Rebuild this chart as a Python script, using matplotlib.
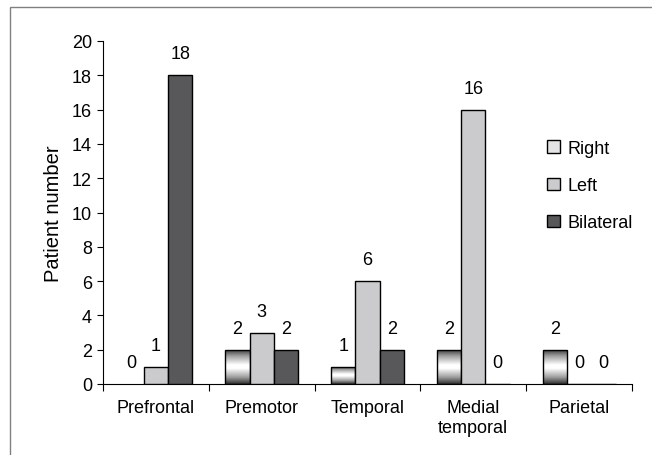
import matplotlib
matplotlib.use("Agg")
import matplotlib.pyplot as plt
import numpy as np
from matplotlib.patches import Rectangle, Patch
from matplotlib.colors import LinearSegmentedColormap

plt.rcParams['font.family'] = ['Liberation Sans', 'DejaVu Sans']

categories = ["Prefrontal", "Premotor", "Temporal", "Medial\ntemporal", "Parietal"]
right = [0, 2, 1, 2, 2]
left = [1, 3, 6, 16, 0]
bilateral = [18, 2, 2, 0, 0]
yticks = [0, 2, 4, 6, 8, 10, 12, 14, 16, 18, 20]

fig = plt.figure(figsize=(6.52, 4.56), dpi=100)
# outer border (top and left visible)
fig.patches.append(Rectangle((10/652, -1), 2, 2 - 8/456, transform=fig.transFigure,
                             fill=False, edgecolor='#808080', linewidth=1))

ax = fig.add_axes([103/652, 1 - 385/456, (632-103)/652, (385-42)/456])

w = 0.23
x = np.arange(5) + 0.5
grad_cmap = LinearSegmentedColormap.from_list(
    "g", [(0, "#303030"), (0.2, "#a0a0a0"), (0.45, "#ffffff"), (0.55, "#ffffff"), (0.8, "#a0a0a0"), (1, "#303030")])
grad = np.linspace(0, 1, 256).reshape(-1, 1)

for xi, v in zip(x, right):
    if v > 0:
        r = Rectangle((xi - w*1.5, 0), w, v, facecolor='none', edgecolor='black', linewidth=1, zorder=3)
        ax.add_patch(r)
        im = ax.imshow(grad, cmap=grad_cmap, aspect='auto', extent=[xi - w*1.5, xi - w*0.5, 0, v],
                       zorder=2, interpolation='bilinear')
        im.set_clip_path(r)
ax.bar(x, left, w, color='#cbcbcd', edgecolor='black', linewidth=1, zorder=3)
ax.bar(x + w, bilateral, w, color='#58585a', edgecolor='black', linewidth=1, zorder=3)
ax.set_xlim(0, 5)
ax.set_ylim(0, 20)

fs = 13
off = 0.75
for xi, v in zip(x, right):
    ax.text(xi - w, v + off, str(v), ha='center', va='bottom', fontsize=fs)
for xi, v in zip(x, left):
    ax.text(xi, v + off, str(v), ha='center', va='bottom', fontsize=fs)
for xi, v in zip(x, bilateral):
    ax.text(xi + w, v + off, str(v), ha='center', va='bottom', fontsize=fs)

ax.spines['top'].set_visible(False)
ax.spines['right'].set_visible(False)
ax.set_yticks(yticks)
ax.set_yticklabels([str(t) for t in yticks], fontsize=fs)
ax.set_xticks(np.arange(6))
ax.set_xticklabels([])
ax.tick_params(axis='x', length=5, direction='out')
ax.tick_params(axis='y', length=4, direction='out', pad=4)
for xi, c in zip(x, categories):
    ax.text(xi, -0.85, c, ha='center', va='top', fontsize=fs, linespacing=1.3)
ax.set_ylabel("Patient number", fontsize=14.5, labelpad=6)

h_right = Rectangle((0, 0), 1, 1, facecolor='#e4e4e6', edgecolor='black')
h_left = Patch(facecolor='#cbcbcd', edgecolor='black')
h_bil = Patch(facecolor='#58585a', edgecolor='black')
leg = ax.legend([h_right, h_left, h_bil], ["Right", "Left", "Bilateral"], loc='upper left',
                bbox_to_anchor=(444/529, 1 - (141-42)/343), frameon=False, fontsize=fs,
                handlelength=0.7, handleheight=0.7, handletextpad=0.45, labelspacing=1.12,
                borderaxespad=0, borderpad=0)

fig.savefig("out.png", dpi=100)
